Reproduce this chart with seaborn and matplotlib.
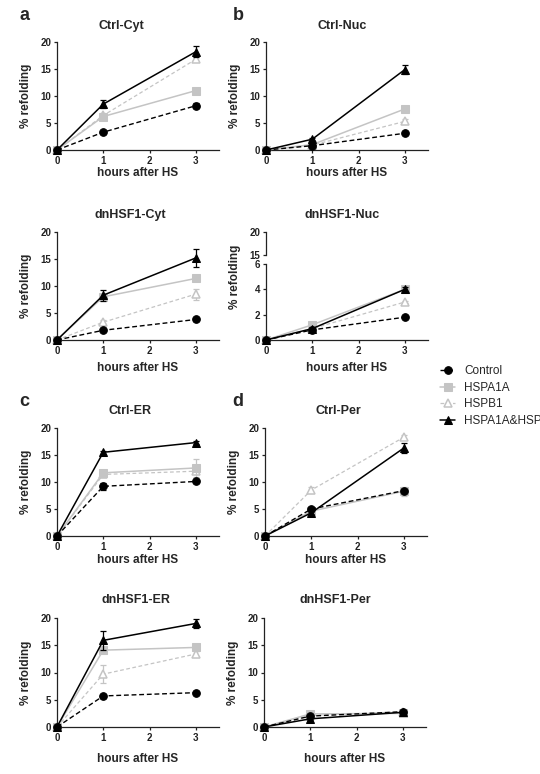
import matplotlib
matplotlib.use("Agg")
import matplotlib.pyplot as plt
import seaborn as sns

# ------------------------
# data (% refolding, mean and error)
# ------------------------
times = [0, 1, 3]
series_labels = ["Control", "HSPA1A", "HSPB1", "HSPA1A&HSPB1"]

ctrl_cyt_mean = [[0, 3.3, 8.2], [0, 6.2, 11.0], [0, 6.4, 16.8], [0, 8.5, 18.2]]
ctrl_cyt_err = [[0, 0.3, 0.5], [0, 0.4, 0.4], [0, 0.4, 0.4], [0, 0.8, 1.0]]

ctrl_nuc_mean = [[0, 0.8, 3.1], [0, 1.0, 7.6], [0, 0.9, 5.3], [0, 2.0, 14.9]]
ctrl_nuc_err = [[0, 0.1, 0.2], [0, 0.2, 0.5], [0, 0.2, 0.4], [0, 0.2, 0.8]]

dnhsf1_cyt_mean = [[0, 1.8, 3.8], [0, 8.0, 11.4], [0, 3.3, 8.5], [0, 8.3, 15.2]]
dnhsf1_cyt_err = [[0, 0.2, 0.3], [0, 0.4, 0.4], [0, 0.4, 1.0], [0, 1.0, 1.6]]

dnhsf1_nuc_mean = [[0, 0.8, 1.8], [0, 1.2, 4.0], [0, 0.9, 3.0], [0, 0.9, 4.0]]
dnhsf1_nuc_err = [[0, 0.1, 0.1], [0, 0.1, 0.2], [0, 0.1, 0.1], [0, 0.1, 0.2]]

ctrl_er_mean = [[0, 9.2, 10.1], [0, 11.7, 12.6], [0, 11.4, 12.0], [0, 15.5, 17.3]]
ctrl_er_err = [[0, 0.7, 0.3], [0, 0.6, 1.6], [0, 0.5, 0.5], [0, 0.3, 0.3]]

ctrl_per_mean = [[0, 5.0, 8.4], [0, 4.6, 8.3], [0, 8.5, 18.3], [0, 4.3, 16.3]]
ctrl_per_err = [[0, 0.3, 0.3], [0, 0.3, 0.8], [0, 0.6, 0.4], [0, 0.3, 1.0]]

dnhsf1_er_mean = [[0, 5.7, 6.3], [0, 14.1, 14.6], [0, 9.7, 13.4], [0, 15.9, 19.0]]
dnhsf1_er_err = [[0, 0.4, 0.3], [0, 0.5, 0.6], [0, 1.6, 0.6], [0, 1.7, 0.9]]

dnhsf1_per_mean = [[0, 2.0, 2.8], [0, 2.4, 2.5], [0, 2.1, 2.8], [0, 1.5, 2.7]]
dnhsf1_per_err = [[0, 0.2, 0.2], [0, 0.3, 0.3], [0, 0.2, 0.2], [0, 0.2, 0.4]]

# ------------------------
# styles
# ------------------------
LIGHT = "#c4c4c4"
STYLES = [
    dict(color="black", linestyle=(0, (3.5, 2)), marker="o", markersize=5.5,
         markerfacecolor="black", markeredgecolor="black", linewidth=1.0, zorder=4),
    dict(color=LIGHT, linestyle="-", marker="s", markersize=5.5,
         markerfacecolor=LIGHT, markeredgecolor=LIGHT, linewidth=1.1, zorder=3),
    dict(color=LIGHT, linestyle=(0, (3, 2)), marker="^", markersize=6,
         markerfacecolor="white", markeredgecolor=LIGHT, markeredgewidth=1.1,
         linewidth=0.9, zorder=2),
    dict(color="black", linestyle="-", marker="^", markersize=6,
         markerfacecolor="black", markeredgecolor="black", linewidth=1.1, zorder=5),
]
ERR_COLORS = ["black", LIGHT, LIGHT, "black"]
DRAW_ORDER = [2, 1, 0, 3]

sns.set_style("ticks")
plt.rcParams["font.family"] = ["Liberation Sans", "DejaVu Sans"]

W, H = 540, 774
fig = plt.figure(figsize=(W / 100, H / 100), dpi=100)


def add_ax(left, top, bottom, right_len=162):
    return fig.add_axes([left / W, 1 - bottom / H, right_len / W, (bottom - top) / H])


def style_ax(ax, ylim, yticks, show_x=True):
    ax.set_xlim(0, 3.5)
    ax.set_ylim(*ylim)
    ax.set_yticks(yticks)
    ax.set_xticks([0, 1, 2, 3])
    for side in ["top", "right"]:
        ax.spines[side].set_visible(False)
    for side in ["left", "bottom"]:
        ax.spines[side].set_linewidth(0.9)
        ax.spines[side].set_color("#222222")
    ax.tick_params(direction="out", length=2.5, width=0.9, pad=1.5,
                   labelsize=7, colors="#222222")
    for lab in ax.get_xticklabels() + ax.get_yticklabels():
        lab.set_fontweight("bold")
    if not show_x:
        ax.spines["bottom"].set_visible(False)
        ax.set_xticks([])


def draw_series(ax, means, errs):
    for i in DRAW_ORDER:
        st = dict(STYLES[i])
        z = st.pop("zorder")
        ax.errorbar(times, means[i], yerr=errs[i], fmt="none", ecolor=ERR_COLORS[i],
                    elinewidth=0.9, capsize=2.5, capthick=0.9, zorder=z - 0.5, clip_on=False)
        sns.lineplot(x=times, y=means[i], ax=ax, label=series_labels[i], legend=False,
                     errorbar=None, clip_on=False, zorder=z, **st)


def labels(ax, title, title_x, xlab_off, ylab_y=0.5, title_pad=9.5):
    ax.set_title(title, x=title_x, pad=title_pad, fontsize=9, fontweight="bold")
    ax.set_xlabel("hours after HS", fontsize=8.5, fontweight="bold")
    ax.set_ylabel("% refolding", fontsize=8.5, fontweight="bold")
    ax.xaxis.set_label_coords(0.5, xlab_off)
    ax.yaxis.set_label_coords(-0.155, ylab_y)


# ------------------------
# panels
# ------------------------
panels = [
    ("Ctrl-Cyt", ctrl_cyt_mean, ctrl_cyt_err, 57, 42, 150, 0.40, -0.162, 9.5),
    ("Ctrl-Nuc", ctrl_nuc_mean, ctrl_nuc_err, 266, 42, 150, 0.47, -0.162, 9.5),
    ("dnHSF1-Cyt", dnhsf1_cyt_mean, dnhsf1_cyt_err, 57, 232, 340, 0.45, -0.208, 10),
    ("Ctrl-ER", ctrl_er_mean, ctrl_er_err, 57, 428, 536, 0.45, -0.171, 10),
    ("Ctrl-Per", ctrl_per_mean, ctrl_per_err, 265, 428, 536, 0.45, -0.171, 10),
    ("dnHSF1-ER", dnhsf1_er_mean, dnhsf1_er_err, 57, 618, 727, 0.49, -0.236, 11),
    ("dnHSF1-Per", dnhsf1_per_mean, dnhsf1_per_err, 264, 618, 727, 0.44, -0.236, 11),
]

first_ax = None
for title, means, errs, left, top, bottom, tx, xoff, tpad in panels:
    ax = add_ax(left, top, bottom)
    draw_series(ax, means, errs)
    style_ax(ax, (0, 20), [0, 5, 10, 15, 20])
    labels(ax, title, tx, xoff, title_pad=tpad)
    if first_ax is None:
        first_ax = ax

# dnHSF1-Nuc with broken y axis
ax_top = add_ax(266, 232, 255)
style_ax(ax_top, (15, 20), [15, 20], show_x=False)
ax_top.set_title("dnHSF1-Nuc", x=0.47, pad=10, fontsize=9, fontweight="bold")
ax_top.patch.set_alpha(0)

ax_bot = add_ax(266, 264, 340)
draw_series(ax_bot, dnhsf1_nuc_mean, dnhsf1_nuc_err)
style_ax(ax_bot, (0, 6), [0, 2, 4, 6])
ax_bot.set_xlabel("hours after HS", fontsize=8.5, fontweight="bold")
ax_bot.set_ylabel("% refolding", fontsize=8.5, fontweight="bold")
ax_bot.xaxis.set_label_coords(0.5, -0.296)
ax_bot.yaxis.set_label_coords(-0.155, 0.83)

# panel letters
for letter, x, y in [("a", 24, 15), ("b", 238, 15), ("c", 24, 402), ("d", 238, 402)]:
    fig.text(x / W, 1 - y / H, letter, fontsize=13, fontweight="bold",
             ha="center", va="center")

# legend
handles, labs = first_ax.get_legend_handles_labels()
order = [series_labels.index(l) for l in series_labels]
hmap = dict(zip(labs, handles))
fig.legend([hmap[l] for l in series_labels], series_labels,
           loc="upper left", bbox_to_anchor=(440 / W, 1 - 365 / H),
           frameon=False, fontsize=8.5, handlelength=1.3, handletextpad=0.75,
           labelspacing=0.4, borderpad=0, borderaxespad=0, numpoints=1)

fig.savefig("out.png", dpi=100)
